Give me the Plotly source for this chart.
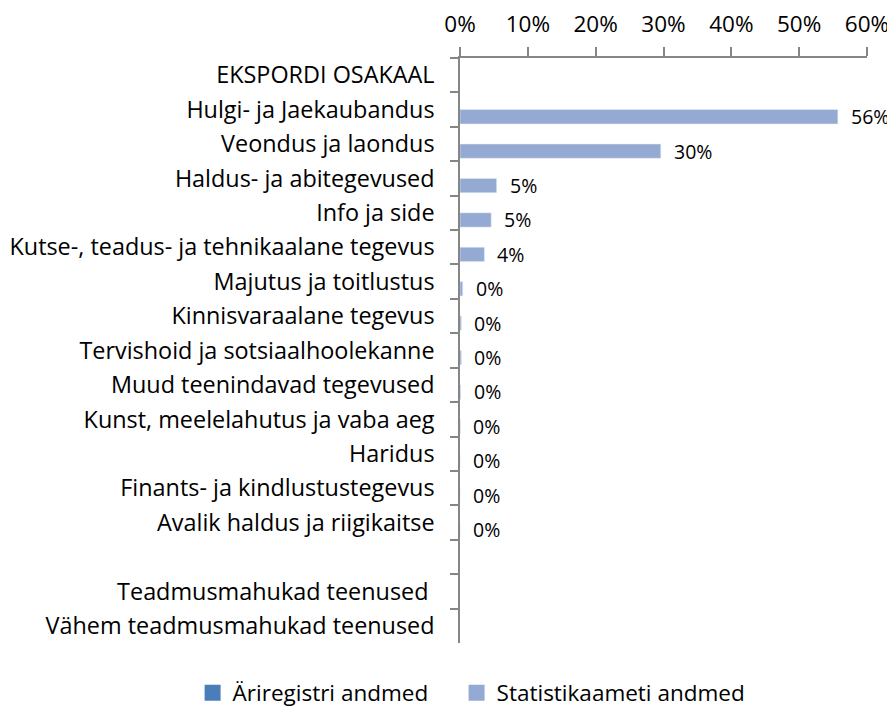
import plotly.graph_objects as go

categories = [
    "EKSPORDI OSAKAAL",
    "Hulgi- ja Jaekaubandus",
    "Veondus ja laondus",
    "Haldus- ja abitegevused",
    "Info ja side",
    "Kutse-, teadus- ja tehnikaalane tegevus",
    "Majutus ja toitlustus",
    "Kinnisvaraalane tegevus",
    "Tervishoid ja sotsiaalhoolekanne",
    "Muud teenindavad tegevused",
    "Kunst, meelelahutus ja vaba aeg",
    "Haridus",
    "Finants- ja kindlustustegevus",
    "Avalik haldus ja riigikaitse",
    " ",
    "Teadmusmahukad teenused ",
    "Vähem teadmusmahukad teenused",
]

ariregister = [None] * len(categories)
statistikaamet = [None, 0.557, 0.296, 0.054, 0.046, 0.036, 0.004, 0.002, 0.002,
                  0.001, 0.0005, 0.0, 0.0, 0.0, None, None, None]

series_names = ["Äriregistri andmed", "Statistikaameti andmed"]
x_ticks = [0, 0.1, 0.2, 0.3, 0.4, 0.5, 0.6]

FONT = "Open Sans"
DARK = "#4A7EBB"
LIGHT = "#95AAD3"
AXIS = "#868686"
colors = [DARK, LIGHT]
legend_pad = ["\u00a0" * 4, ""]

fig = go.Figure()
for name, vals, col in zip(series_names, [ariregister, statistikaamet], colors):
    fig.add_trace(go.Bar(name=name, y=categories, x=vals, orientation="h",
                         marker_color=col, showlegend=False))
# legend entries with larger square symbols
for name, col, pad in zip(series_names, colors, legend_pad):
    fig.add_trace(go.Scatter(name=name + pad, x=[None], y=[None], mode="markers",
                             marker=dict(symbol="square", size=16, color=col),
                             showlegend=True))

for cat, v in zip(categories, statistikaamet):
    if v is None:
        continue
    fig.add_annotation(x=v, y=cat, xref="x", yref="y", text=f"{v:.0%}",
                       showarrow=False, xanchor="left", yanchor="middle",
                       xshift=11, yshift=-7,
                       font=dict(family=FONT, size=19.5, color="#000000"))

fig.update_layout(
    width=887, height=701,
    margin=dict(l=452, r=28, t=50, b=66, autoexpand=False),
    paper_bgcolor="white", plot_bgcolor="white",
    barmode="group", bargap=0.17, bargroupgap=0,
    font=dict(family=FONT, size=21, color="#000000"),
    showlegend=True,
    legend=dict(orientation="h", xref="paper", yref="paper",
                x=-0.657, y=-0.0855, xanchor="left", yanchor="middle",
                font=dict(family=FONT, size=22.5),
                traceorder="normal"),
    xaxis=dict(side="top", range=[0, 0.6], tickvals=x_ticks, tickformat=".0%",
               automargin=False,
               showgrid=False, zeroline=False, showline=True, linecolor=AXIS,
               linewidth=1.5, ticks="outside", ticklen=9, tickcolor=AXIS,
               tickwidth=1.5, tickfont=dict(family=FONT, size=22.5),
               ticklabelstandoff=6),
    yaxis=dict(type="category", categoryorder="array", categoryarray=categories,
               range=[len(categories) - 0.5, -0.5], tickson="boundaries",
               automargin=False,
               showgrid=False, zeroline=False, showline=True, linecolor=AXIS,
               linewidth=1.5, ticks="outside", ticklen=8, tickcolor=AXIS,
               tickwidth=1.5, tickfont=dict(family=FONT, size=23.4),
               ticklabelstandoff=19),
)

fig.write_html("out.html")
